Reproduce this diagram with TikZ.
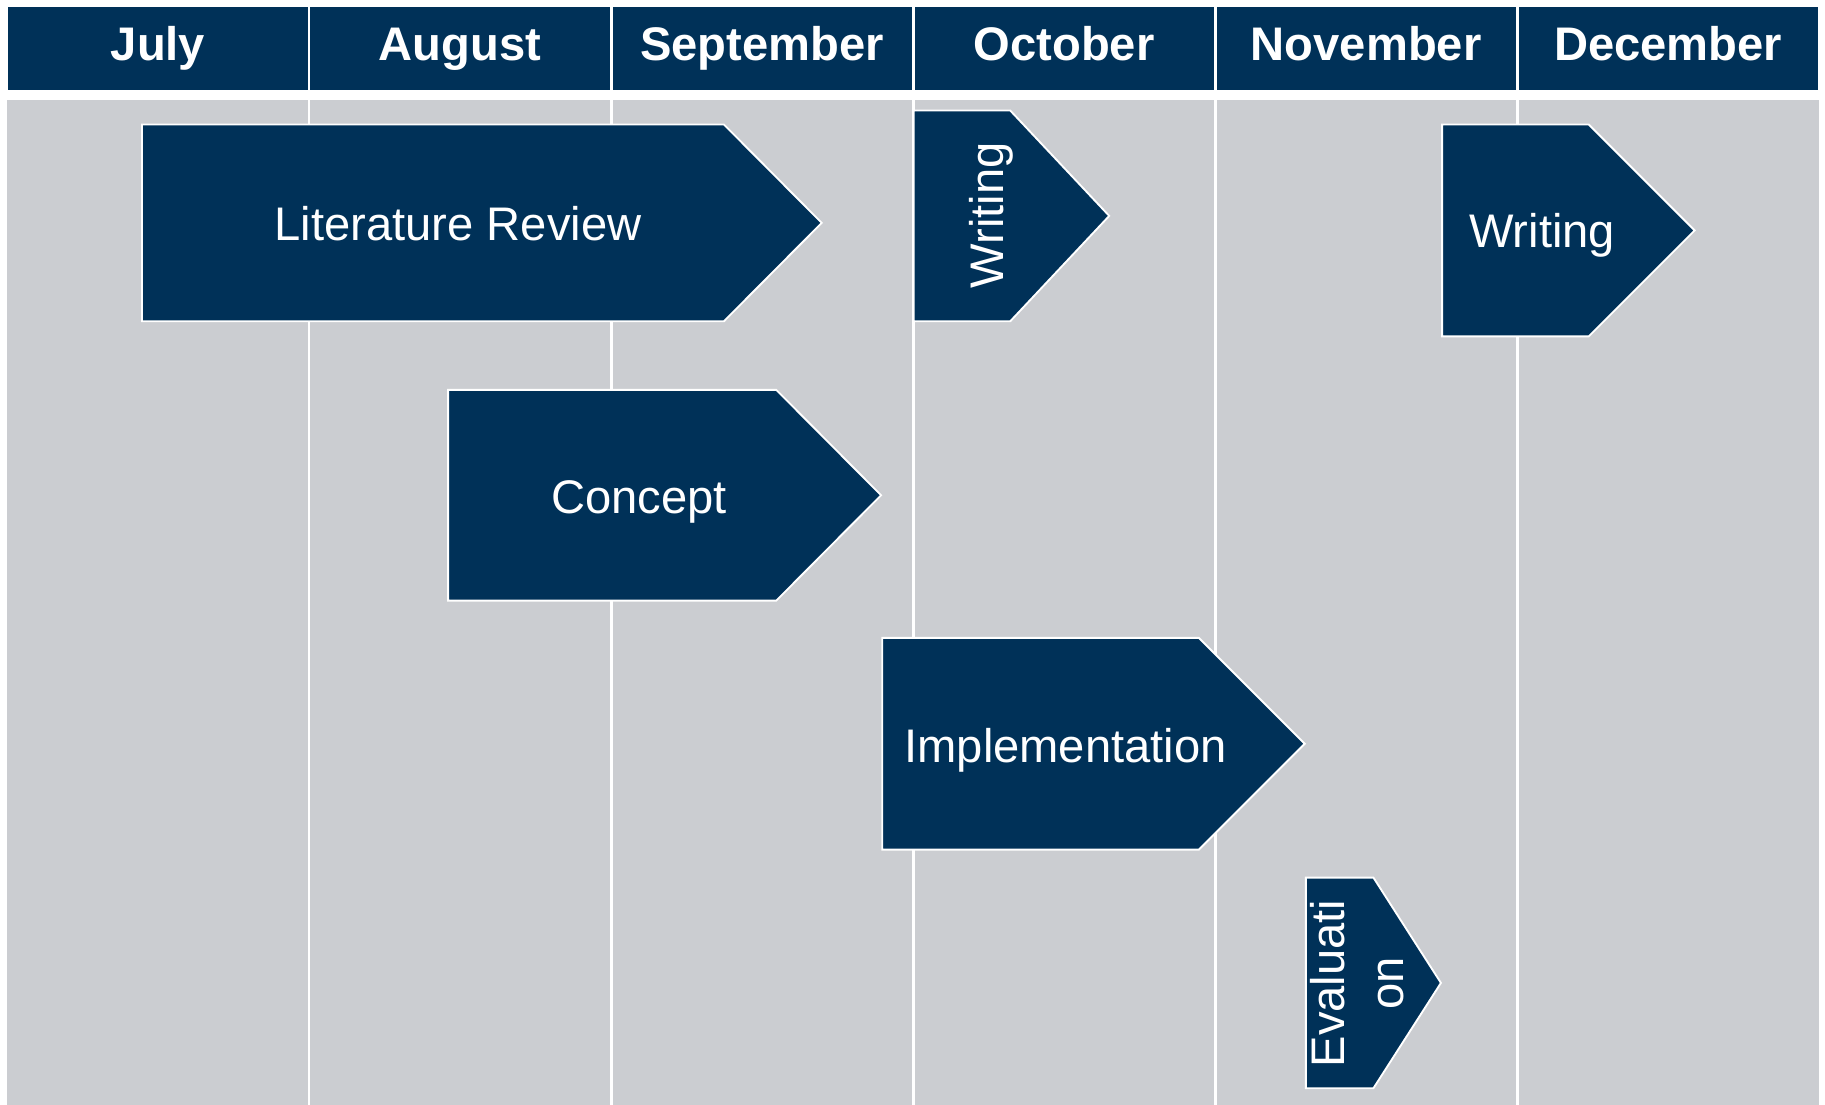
\documentclass[tikz,border=0pt]{standalone}
\usepackage{fontspec}
\setmainfont{Liberation Sans}
\definecolor{navy}{RGB}{0,49,88}
\definecolor{bodygray}{RGB}{203,205,209}
\newcommand{\phasebox}[5]{%
  \draw[phase] (#1,-#2) -- (#4,-#2) -- (#5,{-(#2+#3)/2}) -- (#4,-#3) -- (#1,-#3) -- cycle;}
\tikzset{
  monthcell/.style={fill=navy, draw=white, line width=2.5pt},
  month/.style={text=white, inner sep=0pt, text height=29pt, text depth=0pt,
    font=\fontsize{40.5}{48}\selectfont\bfseries},
  phase/.style={fill=navy, draw=white, line width=1.6pt, line join=miter},
  label/.style={text=white, inner sep=0pt, text height=29pt, text depth=0pt,
    font=\fontsize{40.5}{50}\selectfont},
  sep/.style={draw=white, line width=2.5pt}
}
\begin{document}
\begin{tikzpicture}[x=1pt,y=1pt]
\useasboundingbox (0,0) rectangle (1568,-949);
\fill[white] (0,0) rectangle (1568,-949);
% header
\foreach \xa/\xb in {6/265.5,265.5/525,525/784.5,784.5/1044,1044/1303.5,1303.5/1563}
  \draw[monthcell] (\xa,-4.75) rectangle (\xb,-78.25);
\node[month] (jul) at (135.75,-37.5) {July};
\node[month] (aug) at (395.25,-37.5) {August};
\node[month] (sep) at (654.75,-37.5) {September};
\node[month] (oct) at (914.25,-37.5) {October};
\node[month] (nov) at (1173.75,-37.5) {November};
\node[month] (dec) at (1433.25,-37.5) {December};
% body
\fill[bodygray] (6,-86) rectangle (1563,-949);
\foreach \xx in {265.5,525,784.5,1044,1303.5}
  \draw[sep] (\xx,-86) -- (\xx,-949);
% phases
\phasebox{122}{107}{276}{622}{706}
\node[label] (lit) at (393.5,-192) {Literature Review};
\phasebox{785}{95}{276}{868}{953}
\node[label, rotate=90] (write1) at (848,-185) {Writing};
\phasebox{1239}{107}{289}{1365}{1456}
\node[label] (write2) at (1325,-198.5) {Writing};
\phasebox{385}{335}{516}{667}{757}
\node[label] (concept) at (549,-426.5) {Concept};
\phasebox{758}{548}{730}{1030}{1121}
\node[label] (impl) at (915.5,-641) {Implementation};
\phasebox{1122}{754}{935}{1180}{1238}
\node[text=white, inner sep=0pt, align=center, rotate=90,
  font=\fontsize{40.5}{50}\selectfont] (eval) at (1166,-845) {Evaluati\\on};
\end{tikzpicture}
\end{document}
